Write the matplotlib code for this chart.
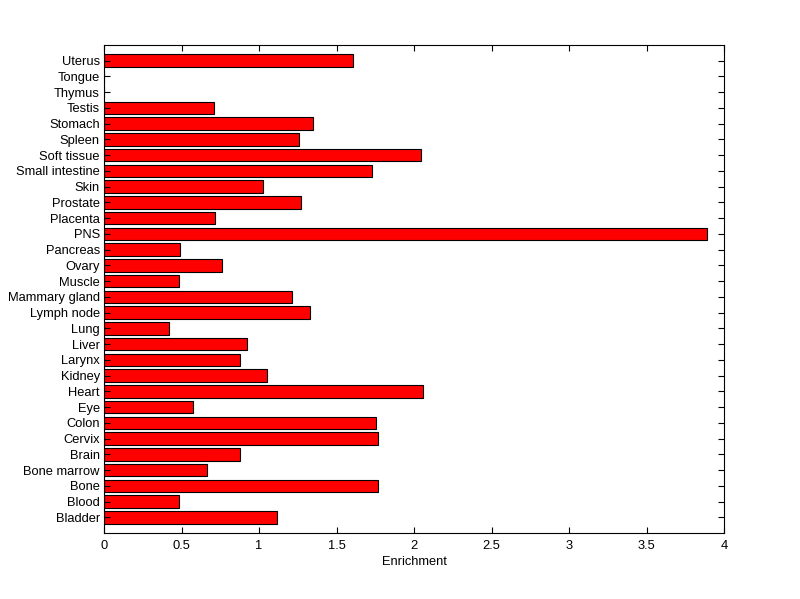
import matplotlib
matplotlib.use('Agg')
import matplotlib.pyplot as plt
import numpy as np

plt.rcParams['font.family'] = ['Liberation Sans', 'DejaVu Sans']

# tissues, bottom to top
tissues = ['Bladder', 'Blood', 'Bone', 'Bone marrow', 'Brain', 'Cervix', 'Colon',
           'Eye', 'Heart', 'Kidney', 'Larynx', 'Liver', 'Lung', 'Lymph node',
           'Mammary gland', 'Muscle', 'Ovary', 'Pancreas', 'PNS', 'Placenta',
           'Prostate', 'Skin', 'Small intestine', 'Soft tissue', 'Spleen',
           'Stomach', 'Testis', 'Thymus', 'Tongue', 'Uterus']
enrichment = [1.116, 0.486, 1.768, 0.667, 0.877, 1.768, 1.755,
              0.574, 2.058, 1.052, 0.877, 0.923, 0.422, 1.331,
              1.215, 0.486, 0.761, 0.490, 3.893, 0.719,
              1.273, 1.028, 1.729, 2.048, 1.261,
              1.351, 0.710, 0.0, 0.0, 1.607]

fig = plt.figure(figsize=(8, 5.99), dpi=100)
ax = fig.add_axes([0.13, 0.11, 0.775, 0.815])

pos = np.arange(1, len(tissues) + 1)
ax.barh(pos, enrichment, height=0.8, color='#ff0000', edgecolor='black', linewidth=0.8)

ax.set_xlim(0, 4)
ax.set_ylim(0, len(tissues) + 1)
ax.set_xticks(np.arange(0, 4.01, 0.5))
ax.set_xticklabels(['0', '0.5', '1', '1.5', '2', '2.5', '3', '3.5', '4'])
ax.set_yticks(pos)
ax.set_yticklabels(tissues)
ax.tick_params(direction='in', length=4.3, width=0.8, labelsize=9.3, top=True, right=True)
ax.tick_params(axis='x', pad=5)
ax.tick_params(axis='y', pad=3)
for s in ax.spines.values():
    s.set_linewidth(0.8)
ax.set_xlabel('Enrichment', fontsize=9.3, labelpad=3)

fig.savefig('out.png', dpi=100)
